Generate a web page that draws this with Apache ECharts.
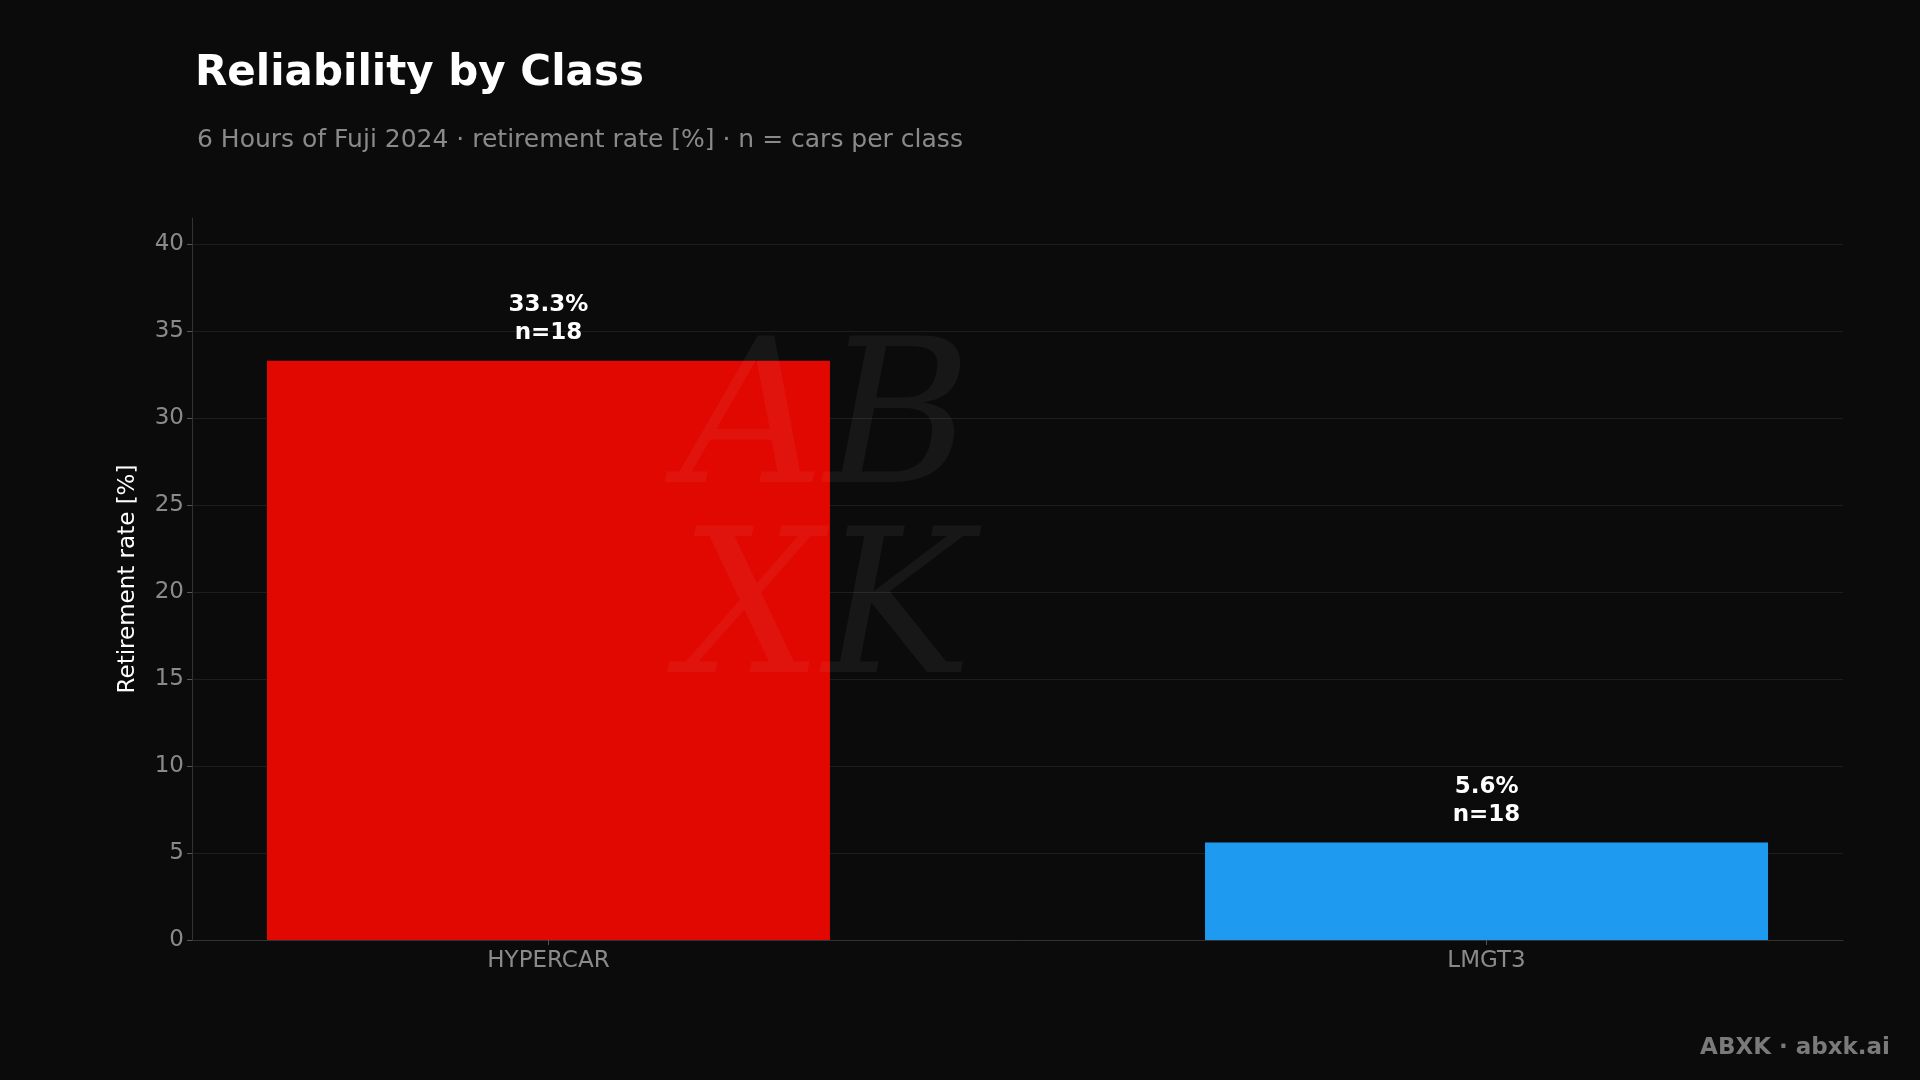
<!DOCTYPE html>
<html><head><meta charset="utf-8">
<script src="https://cdn.jsdelivr.net/npm/echarts@6/dist/echarts.min.js"></script>
<style>html,body{margin:0;background:#0b0b0b}#c{width:1920px;height:1080px}</style>
</head><body><div id="c"></div>
<script>
const categories = ["HYPERCAR", "LMGT3"];
const rates = [33.3, 5.6];
const counts = [18, 18];
const colors = ["#e00800", "#1e9bf0"];

const chart = echarts.init(document.getElementById('c'));
chart.setOption({
  backgroundColor: '#0b0b0b',
  title: [{
    text: 'Reliability by Class', left: 190, top: 48,
    textStyle: {color: '#ffffff', fontSize: 42, fontWeight: 'bold', fontFamily: 'DejaVu Sans'}
  }, {
    text: '6 Hours of Fuji 2024 · retirement rate [%] · n = cars per class', left: 192, top: 123,
    textStyle: {color: '#8a8a8a', fontSize: 25, fontWeight: 'normal', fontFamily: 'DejaVu Sans'}
  }],
  graphic: [{
    type: 'text', right: 30, bottom: 20,
    style: {text: 'ABXK · abxk.ai', fill: '#7a7a7a', font: 'bold 23px DejaVu Sans'}
  }, {
    type: 'text', left: 680, top: 330, z: 10,
    style: {text: 'AB\nXK', fill: 'rgba(255,255,255,0.05)', font: 'italic 200px DejaVu Serif', lineHeight: 190}
  }],
  grid: {left: 192, right: 77, top: 218, bottom: 140},
  xAxis: {
    type: 'value', min: -0.38, max: 1.38,
    splitLine: {show: false},
    axisLine: {show: true, onZero: false, lineStyle: {color: '#333'}},
    axisTick: {show: true, customValues: [0, 1], lineStyle: {color: '#555'}},
    axisLabel: {customValues: [0, 1], formatter: v => categories[Math.round(v)],
      color: '#8a8a8a', fontSize: 23, margin: 10, fontFamily: 'DejaVu Sans'}
  },
  yAxis: {
    type: 'value', min: 0, max: 41.5, interval: 5,
    name: 'Retirement rate [%]', nameLocation: 'middle', nameGap: 52,
    nameTextStyle: {color: '#ffffff', fontSize: 23, fontFamily: 'DejaVu Sans'},
    axisLine: {show: true, onZero: false, lineStyle: {color: '#333'}},
    axisTick: {show: true, lineStyle: {color: '#555'}},
    axisLabel: {color: '#8a8a8a', fontSize: 23, showMaxLabel: false, fontFamily: 'DejaVu Sans'},
    splitLine: {showMaxLine: false, showMinLine: false, lineStyle: {color: '#1e1e1e'}}
  },
  series: [{
    type: 'bar', barWidth: 563,
    data: rates.map((v, i) => ({value: [i, v], itemStyle: {color: colors[i]}})),
    label: {
      show: true, position: 'top', distance: 14, color: '#fff', fontSize: 23, fontWeight: 'bold',
      fontFamily: 'DejaVu Sans', lineHeight: 28,
      formatter: p => p.value[1].toFixed(1) + '%\nn=' + counts[p.dataIndex]
    }
  }]
});
</script></body></html>
